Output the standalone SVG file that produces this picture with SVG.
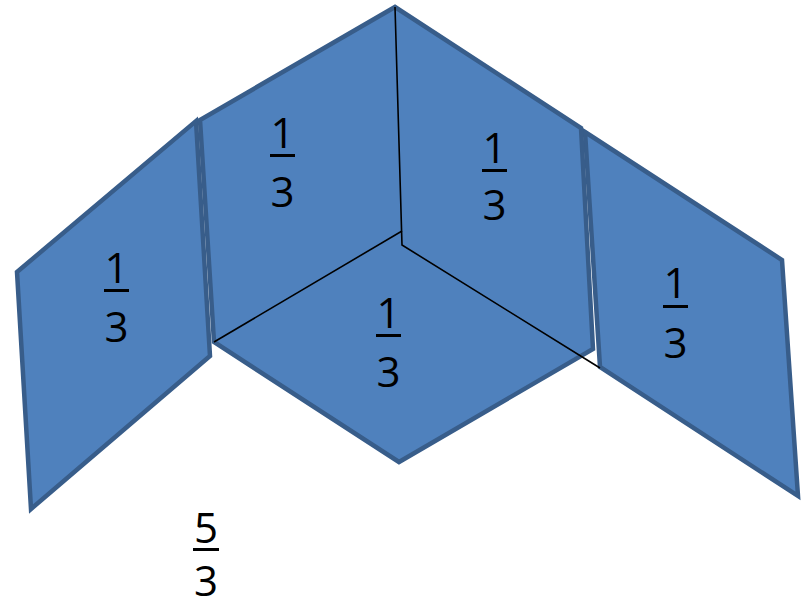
<svg xmlns="http://www.w3.org/2000/svg" width="810" height="606" viewBox="0 0 810 606">
<style>
.face{fill:#4F81BD;stroke:#385D8A;stroke-width:4.5;stroke-linejoin:miter}
.edge{stroke:#000;stroke-width:1.6;fill:none}
.num{font-family:"Open Sans","Liberation Sans",sans-serif;font-size:42px;fill:#000;text-anchor:middle}
.bar{fill:#000}
</style>
<rect width="810" height="606" fill="#fff"/>
<g id="panel-left">
<polygon class="face" points="17,272 196,121 210,356 31,509"/>
</g>
<g id="panel-right">
<polygon class="face" points="585,132 782,260 798,496 600,367"/>
</g>
<g id="hexagon">
<polygon class="face" points="395,7 581,128 593,349 399,462 214,342 200,120"/>
</g>
<g id="edges">
<polyline class="edge" points="395,7 402,245 600,368"/>
<line class="edge" x1="402" y1="231" x2="214" y2="342"/>
</g>
<g id="label-left">
<text class="num" x="116.5" y="283">1</text>
<rect class="bar" x="104" y="289" width="25" height="3"/>
<text class="num" x="116.5" y="342">3</text>
</g>
<g id="label-top-left">
<text class="num" x="282.5" y="148">1</text>
<rect class="bar" x="270" y="154" width="25" height="3"/>
<text class="num" x="282.5" y="207">3</text>
</g>
<g id="label-top-right">
<text class="num" x="494.5" y="163">1</text>
<rect class="bar" x="482" y="169" width="25" height="3"/>
<text class="num" x="494.5" y="220">3</text>
</g>
<g id="label-bottom">
<text class="num" x="388.5" y="328">1</text>
<rect class="bar" x="376" y="334" width="25" height="3"/>
<text class="num" x="388.5" y="387">3</text>
</g>
<g id="label-right">
<text class="num" x="675.5" y="298">1</text>
<rect class="bar" x="663" y="305" width="25" height="3"/>
<text class="num" x="675.5" y="358">3</text>
</g>
<g id="label-total">
<text class="num" x="206" y="543">5</text>
<rect class="bar" x="193" y="548" width="26" height="3"/>
<text class="num" x="206" y="596">3</text>
</g>
</svg>
